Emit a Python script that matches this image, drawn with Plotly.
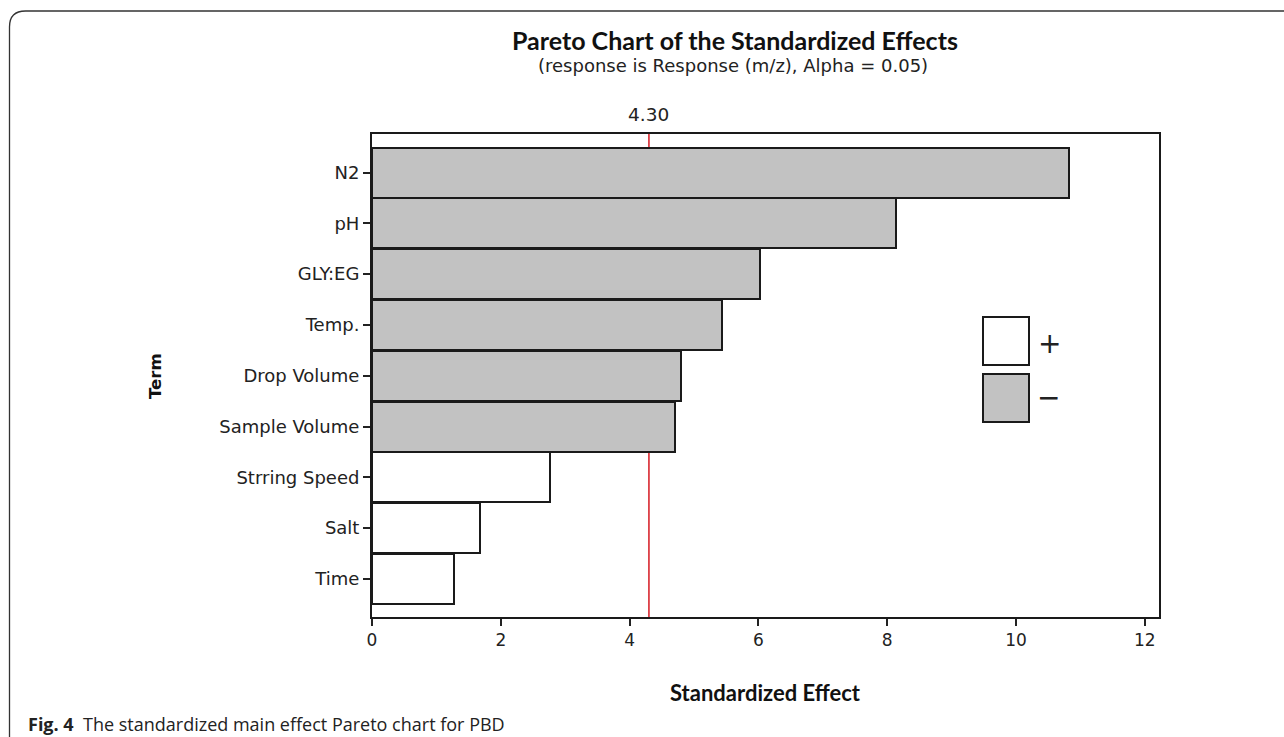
import plotly.graph_objects as go

# ---- data ----
terms = ["N2", "pH", "GLY:EG", "Temp.", "Drop Volume", "Sample Volume",
         "Strring Speed", "Salt", "Time"]
effects = [10.83, 8.13, 6.02, 5.43, 4.80, 4.71, 2.77, 1.67, 1.28]
signs = ["-", "-", "-", "-", "-", "-", "+", "+", "+"]
critical_value = 4.30
x_ticks = [0, 2, 4, 6, 8, 10, 12]

title_text = "Pareto Chart of the Standardized Effects"
subtitle_text = "(response is Response (m/z), Alpha = 0.05)"
caption_bold = "Fig. 4"
caption_text = "The standardized main effect Pareto chart for PBD"

# ---- layout geometry (pixels) ----
WIDTH, HEIGHT = 1284, 737
ML, MR, MT, MB = 372, 125, 134, 120
PW = WIDTH - ML - MR
PH = HEIGHT - MT - MB


def px(x):
    return (x - ML) / PW


def py(y):
    return (HEIGHT - MB - y) / PH


GRAY = "#C2C2C2"
colors = [GRAY if s == "-" else "#FFFFFF" for s in signs]

fig = go.Figure()
fig.add_trace(go.Bar(
    x=effects, y=terms, orientation="h",
    marker=dict(color=colors, line=dict(color="#1a1a1a", width=2)),
    width=0.985, showlegend=False, hoverinfo="x+y",
))

fig.update_layout(
    width=WIDTH, height=HEIGHT,
    margin=dict(l=ML, r=MR, t=MT, b=MB, pad=0),
    paper_bgcolor="white", plot_bgcolor="white",
    xaxis=dict(
        range=[0, 12.22], tickvals=x_ticks, ticks="outside", ticklen=7,
        tickwidth=1.5, tickcolor="#222", showgrid=False, zeroline=False,
        showline=True, linecolor="#1a1a1a", linewidth=2, mirror=True,
        tickfont=dict(family="DejaVu Sans", size=17, color="#222"),
    ),
    yaxis=dict(
        type="category", categoryorder="array", categoryarray=terms,
        range=[len(terms) - 1 + 0.75, -0.76], ticks="outside", ticklen=7,
        tickwidth=1.5, tickcolor="#222", showgrid=False, zeroline=False,
        showline=True, linecolor="#1a1a1a", linewidth=2, mirror=True,
        tickfont=dict(family="DejaVu Sans", size=18, color="#222"),
    ),
    bargap=0,
)

# critical value line (behind bars)
fig.add_shape(type="line", xref="x", yref="paper", x0=critical_value,
              x1=critical_value, y0=0, y1=1, layer="below",
              line=dict(color="#D8262F", width=1.6))
fig.add_annotation(xref="x", yref="paper", x=critical_value, y=py(114),
                   text=f"{critical_value:.2f}", showarrow=False,
                   font=dict(family="DejaVu Sans", size=18.5, color="#222"),
                   xanchor="center", yanchor="middle")

# titles
fig.add_annotation(xref="paper", yref="paper", x=px(735), y=py(40),
                   text=f"<b>{title_text}</b>", showarrow=False,
                   font=dict(family="Lato", size=25, color="#111"),
                   xanchor="center", yanchor="middle")
fig.add_annotation(xref="paper", yref="paper", x=px(733), y=py(65),
                   text=subtitle_text, showarrow=False,
                   font=dict(family="DejaVu Sans", size=18, color="#222"),
                   xanchor="center", yanchor="middle")
fig.add_annotation(xref="paper", yref="paper", x=px(765), y=py(692),
                   text="<b>Standardized Effect</b>", showarrow=False,
                   font=dict(family="Lato", size=22, color="#111"),
                   xanchor="center", yanchor="middle")
fig.add_annotation(xref="paper", yref="paper", x=px(155), y=py(376),
                   text="<b>Term</b>", showarrow=False, textangle=-90,
                   font=dict(family="DejaVu Sans", size=16.5, color="#111"),
                   xanchor="center", yanchor="middle")

# sign legend
fig.add_shape(type="rect", xref="paper", yref="paper",
              x0=px(983), x1=px(1029), y0=py(365), y1=py(317),
              fillcolor="white", line=dict(color="#1a1a1a", width=2))
fig.add_shape(type="rect", xref="paper", yref="paper",
              x0=px(983), x1=px(1029), y0=py(422), y1=py(374),
              fillcolor=GRAY, line=dict(color="#1a1a1a", width=2))
fig.add_annotation(xref="paper", yref="paper", x=px(1049), y=py(343),
                   text="+", showarrow=False,
                   font=dict(family="DejaVu Sans", size=28, color="#222"),
                   xanchor="center", yanchor="middle")
fig.add_annotation(xref="paper", yref="paper", x=px(1048), y=py(398),
                   text="\u2212", showarrow=False,
                   font=dict(family="DejaVu Sans", size=28, color="#222"),
                   xanchor="center", yanchor="middle")

# outer rounded frame (top-left part visible)
frame_path = (f"M {px(9.5)} {py(745)} L {px(9.5)} {py(27)} "
              f"Q {px(9.5)} {py(11)} {px(25.5)} {py(11)} "
              f"L {px(1295)} {py(11)}")
fig.add_shape(type="path", xref="paper", yref="paper", path=frame_path,
              line=dict(color="#333", width=1.3))

# caption
fig.add_annotation(xref="paper", yref="paper", x=px(26), y=py(724),
                   text=f"<b>{caption_bold}</b>  {caption_text}",
                   showarrow=False,
                   font=dict(family="Open Sans", size=18, color="#222"),
                   xanchor="left", yanchor="middle")

fig.write_html("out.html")
